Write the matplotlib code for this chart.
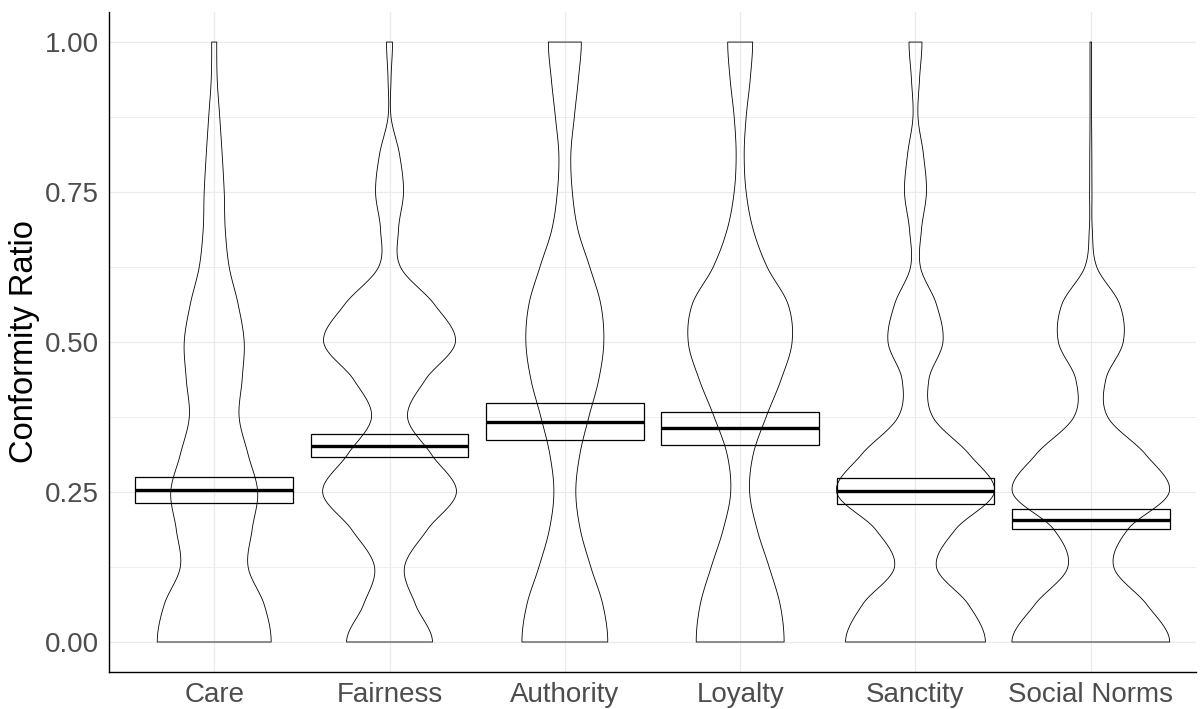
import numpy as np
import matplotlib
matplotlib.use("Agg")
import matplotlib.pyplot as plt

plt.rcParams["font.family"] = ["Liberation Sans", "DejaVu Sans"]

categories = ["Care", "Fairness", "Authority", "Loyalty", "Sanctity", "Social Norms"]

# crossbar: mean and lower / upper bound
means = [0.253, 0.327, 0.366, 0.357, 0.251, 0.203]
lower = [0.232, 0.308, 0.337, 0.328, 0.230, 0.188]
upper = [0.275, 0.346, 0.398, 0.384, 0.273, 0.221]

# violin widths (scaled density, % of widest) read at y = 0, 1/16, ..., 1
levels = np.linspace(0, 1, 17)
care = [72.2, 63.3, 43.0, 48.1, 55.1, 43.0, 31.6, 35.4, 38.0, 30.4, 19.0, 14.0, 12.7, 10.1, 7.0, 3.8, 3.2]
fairness = [54.4, 32.9, 19.0, 48.1, 84.8, 53.2, 22.8, 45.6, 83.5, 57.0, 13.9, 11.4, 17.7, 12.7, 1.9, 1.9, 3.8]
authority = [54.4, 48.1, 32.9, 19.6, 13.9, 19.0, 30.4, 43.0, 49.4, 45.6, 31.6, 16.5, 9.5, 7.6, 12.0, 17.1, 20.9]
loyalty = [55.7, 50.6, 36.7, 21.5, 12.0, 16.5, 32.9, 51.9, 65.8, 60.8, 34.2, 16.5, 7.6, 5.1, 7.6, 12.7, 15.8]
sanctity = [88.6, 67.1, 26.6, 50.6, 100, 68.4, 22.0, 17.0, 34.8, 26.6, 6.3, 7.6, 13.9, 10.1, 3.2, 5.1, 8.2]
social = [100, 70.9, 29.1, 46.8, 99.4, 69.6, 21.5, 19.0, 41.1, 36.7, 7.6, 1.9, 1.5, 1.3, 1.0, 1.0, 1.0]
widths = [care, fairness, authority, loyalty, sanctity, social]


def smooth(ys, vals, yf):
    # catmull-rom through the read widths, mirrored at the ends
    v = np.asarray(vals, float)
    p = np.concatenate([[v[1]], v, [v[-2]]])
    h = ys[1] - ys[0]
    idx = np.clip(((yf - ys[0]) // h).astype(int), 0, len(v) - 2)
    t = (yf - ys[idx]) / h
    p0, p1, p2, p3 = p[idx], p[idx + 1], p[idx + 2], p[idx + 3]
    out = 0.5 * (2 * p1 + (-p0 + p2) * t + (2 * p0 - 5 * p1 + 4 * p2 - p3) * t ** 2
                 + (-p0 + 3 * p1 - 3 * p2 + p3) * t ** 3)
    return np.clip(out, 0.3, None)


fig = plt.figure(figsize=(12.02, 7.09), dpi=100)
ax = fig.add_axes([0.0907, 0.0522, 0.9043, 0.9308])

yf = np.linspace(0, 1, 600)
for i, w in enumerate(widths):
    x = i + 1
    half = 0.45 * smooth(levels, w, yf) / 100
    ax.fill_betweenx(yf, x - half, x + half, facecolor="none", edgecolor="black",
                     linewidth=0.6, zorder=3)

xs = np.arange(1, len(categories) + 1)
ax.bar(xs, np.array(upper) - np.array(lower), bottom=lower, width=0.9, fill=False,
       edgecolor="black", linewidth=0.9, zorder=4)
ax.hlines(means, xs - 0.45, xs + 0.45, colors="black", linewidth=2.4, zorder=5)

ax.set_xlim(0.4, 6.6)
ax.set_ylim(-0.05, 1.05)
ax.set_xticks(xs)
ax.set_xticklabels(categories)
ax.set_yticks([0, 0.25, 0.5, 0.75, 1.0])
ax.set_yticklabels(["0.00", "0.25", "0.50", "0.75", "1.00"])
ax.set_yticks([0.125, 0.375, 0.625, 0.875], minor=True)

ax.grid(True, which="major", color="#EBEBEB", linewidth=0.9, zorder=0)
ax.grid(True, which="minor", axis="y", color="#EBEBEB", linewidth=0.6, zorder=0)
ax.set_axisbelow(True)
ax.tick_params(which="both", length=0, labelsize=20, labelcolor="#4D4D4D")
ax.tick_params(axis="y", pad=7)
ax.tick_params(axis="x", pad=7)

for s in ["top", "right"]:
    ax.spines[s].set_visible(False)
for s in ["left", "bottom"]:
    ax.spines[s].set_color("black")
    ax.spines[s].set_linewidth(1.0)

ax.set_ylabel("Conformity Ratio", fontsize=23.5, color="black", labelpad=4)

plt.savefig("out.png", dpi=100)
plt.close()
